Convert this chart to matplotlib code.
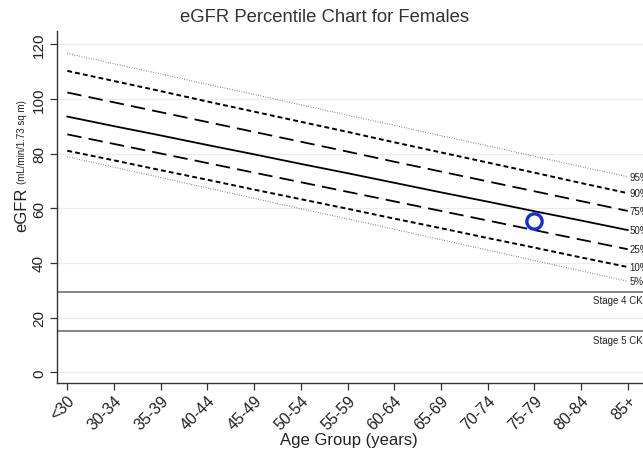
import matplotlib
matplotlib.use("Agg")
import matplotlib.pyplot as plt

plt.rcParams['font.family'] = ['Liberation Sans', 'DejaVu Sans']

age_groups = ["<30", "30-34", "35-39", "40-44", "45-49", "50-54", "55-59",
              "60-64", "65-69", "70-74", "75-79", "80-84", "85+"]

p5  = [78.8, 75.0, 71.2, 67.4, 63.6, 59.8, 56.1, 52.3, 48.5, 44.7, 40.9, 37.1, 33.3]
p10 = [81.0, 77.5, 73.9, 70.4, 66.8, 63.3, 59.8, 56.2, 52.7, 49.1, 45.6, 42.0, 38.5]
p25 = [87.0, 83.5, 80.0, 76.5, 73.0, 69.5, 66.0, 62.5, 59.0, 55.5, 52.0, 48.5, 45.0]
p50 = [93.5, 90.0, 86.6, 83.1, 79.7, 76.2, 72.8, 69.3, 65.8, 62.4, 58.9, 55.5, 52.0]
p75 = [102.3, 98.7, 95.1, 91.5, 87.9, 84.3, 80.7, 77.0, 73.4, 69.8, 66.2, 62.6, 59.0]
p90 = [110.2, 106.5, 102.8, 99.0, 95.3, 91.6, 87.9, 84.1, 80.4, 76.7, 73.0, 69.2, 65.5]
p95 = [116.6, 112.8, 109.1, 105.3, 101.6, 97.8, 94.0, 90.3, 86.5, 82.8, 79.0, 75.2, 71.5]
percentile_labels = ["5%", "10%", "25%", "50%", "75%", "90%", "95%"]

stage_values = [29.5, 15]
stage_labels = ["Stage 4 CKD", "Stage 5 CKD"]

patient_group = "75-79"
patient_egfr = 55.5

W, H = 643, 456
fig = plt.figure(figsize=(W / 100, H / 100), dpi=100)
left_px, right_px, top_px, bottom_px = 57, 700, 32, 383.5
ax = fig.add_axes([left_px / W, 1 - bottom_px / H, (right_px - left_px) / W,
                   (bottom_px - top_px) / H])

x = list(range(len(age_groups)))
xpx0, xstep = 67.3, 46.7
ax.set_xlim(-(xpx0 - left_px) / xstep, (right_px - xpx0) / xstep)
ppu = 2.735
y0px = 373.3
ax.set_ylim(-(bottom_px - y0px) / ppu, (y0px - top_px) / ppu)

for yv in range(0, 121, 20):
    ax.axhline(yv, color="#ececec", lw=0.9, zorder=0)

series = [p5, p10, p25, p50, p75, p90, p95]
styles = [(0, (0.6, 1.6)), (0, (2.5, 1.6)), (0, (8, 4)), "-",
          (0, (8, 4)), (0, (2.5, 1.6)), (0, (0.6, 1.6))]
widths = [0.8, 1.4, 1.3, 1.3, 1.3, 1.4, 0.8]
colors = ["#555555", "black", "black", "black", "black", "black", "#555555"]
for s, ls, lw, c, lab in zip(series, styles, widths, colors, percentile_labels):
    ax.plot(x, s, ls=ls, lw=lw, color=c, zorder=2)
    ax.text(x[-1] + 0.04, s[-1], lab, fontsize=7, va="center", ha="left",
            color="#222222", clip_on=False)

for v, lab in zip(stage_values, stage_labels):
    ax.axhline(v, color="#707070", lw=1.2, zorder=1)
    ax.text(x[-1] - 0.75, v - 3.2, lab, fontsize=7, va="center", ha="left",
            color="#222222")

px_idx = age_groups.index(patient_group)
ax.plot([px_idx], [patient_egfr], marker="o", ms=11, mfc="none", mec="#1030e0",
        mew=2.4, zorder=3)

for sp in ["top", "right"]:
    ax.spines[sp].set_visible(False)
for sp in ["left", "bottom"]:
    ax.spines[sp].set_color("#333333")
    ax.spines[sp].set_linewidth(1.0)

ax.set_xticks(x)
ax.set_xticklabels(age_groups, rotation=45, ha="right", rotation_mode="anchor",
                   fontsize=11.5, color="#222222")
ax.set_yticks(range(0, 121, 20))
ax.set_yticklabels([str(v) for v in range(0, 121, 20)], rotation=90,
                   va="center", fontsize=11, color="#222222")
ax.tick_params(axis="both", length=5, width=0.9, color="#333333")
ax.tick_params(axis="x", pad=2)
ax.tick_params(axis="y", pad=3)

fig.text(325 / W, 1 - 18 / H, "eGFR Percentile Chart for Females",
         ha="center", va="center", fontsize=13.3, color="#333333")
fig.text(349 / W, 1 - 441 / H, "Age Group (years)", ha="center",
         va="center", fontsize=12, color="#222222")

t1 = fig.text(22 / W, 1 - 232 / H, "eGFR", rotation=90, ha="center",
              va="bottom", fontsize=12, color="#222222")
fig.canvas.draw()
bb = t1.get_window_extent()
fig.text(22 / W, (bb.y1 + 4) / H, "(mL/min/1.73 sq m)", rotation=90,
         ha="center", va="bottom", fontsize=7, color="#222222")

fig.savefig("out.png", dpi=100)
